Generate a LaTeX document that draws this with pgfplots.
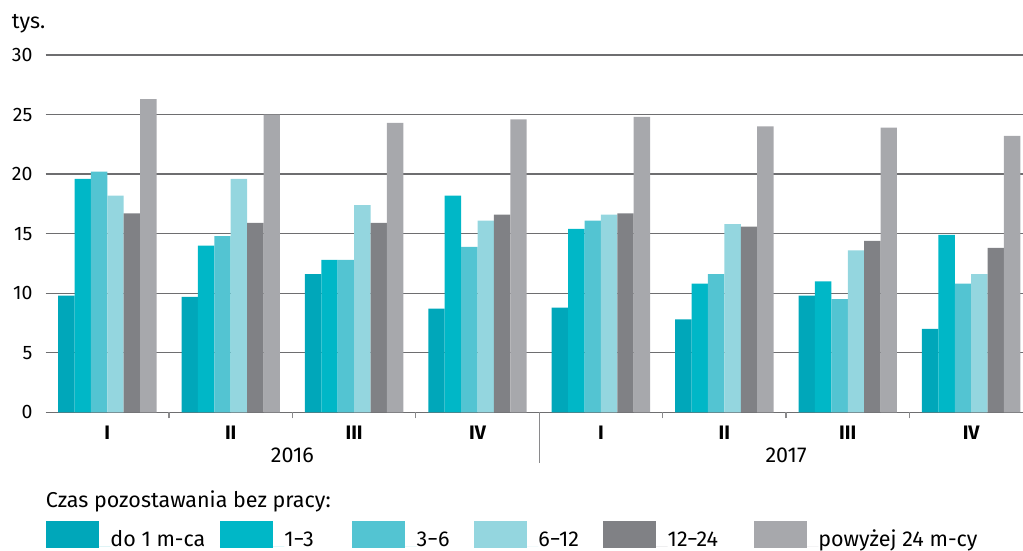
\documentclass[border=0pt]{standalone}
\usepackage{pgfplots}
\pgfplotsset{compat=1.18}
\usepackage{fontspec}
\setmainfont{Fira Sans}
\definecolor{c1}{HTML}{00A7BA}
\definecolor{c2}{HTML}{00B7C7}
\definecolor{c3}{HTML}{53C4D2}
\definecolor{c4}{HTML}{94D6DF}
\definecolor{c5}{HTML}{808185}
\definecolor{c6}{HTML}{A7A8AC}
\definecolor{gridc}{HTML}{6E6E70}
\definecolor{tickc}{HTML}{8A8A8C}
\newcommand{\bigtxt}{\fontsize{21.5}{25}\selectfont}
\begin{document}
\begin{tikzpicture}[font=\fontsize{19.5}{23}\selectfont]
\path[use as bounding box] (0,0) rectangle (1023pt,-550pt);
\begin{axis}[
  at={(45.6pt,-412.3pt)}, anchor=south west,
  scale only axis, width=977.4pt, height=357.3pt,
  xmin=-0.5, xmax=7.42, ymin=0, ymax=30,
  ybar=0pt, bar width=0.1329,
  axis line style={draw=none},
  ymajorgrids, grid style={gridc, line width=1.3pt},
  ytick={0,5,...,30},
  major tick length=0pt,
  tick pos=left,
  /pgf/number format/assume math mode=true,
  yticklabel style={anchor=east, inner sep=0pt, xshift=-13pt},
  xtick={0,...,7},
  xticklabels={I,II,III,IV,I,II,III,IV},
  xticklabel style={anchor=north, inner sep=0pt, yshift=-13.5pt, font=\fontsize{19.5}{23}\selectfont\bfseries},
  extra x ticks={0.5,1.5,2.5,4.5,5.5,6.5},
  extra x tick labels={},
  extra x tick style={major tick length=6pt, tick align=outside, tick style={tickc, line width=1.2pt}},
  myleg/.style={legend image code/.code={\fill (0pt,-2pt) rectangle (53pt,25pt); \path (0pt,0pt) -- (64.5pt,0pt);}},
  legend columns=6,
  legend style={at={(axis description cs:0.0003,-0.3042)}, anchor=north west, draw=none, fill=none,
    inner sep=0pt, outer sep=0pt, row sep=0pt, font=\bigtxt,
    /tikz/every even column/.style={column sep=0pt},
    nodes={inner sep=0pt, outer sep=0pt, anchor=base west}},
  clip=false,
]
\addplot[fill=c1, draw=none, myleg] coordinates {(0,9.8)(1,9.7)(2,11.6)(3,8.7)(4,8.8)(5,7.8)(6,9.8)(7,7.0)};
\addlegendentry{\makebox[109.5pt][l]{do 1 m-ca}}
\addplot[fill=c2, draw=none, myleg] coordinates {(0,19.6)(1,14.0)(2,12.8)(3,18.2)(4,15.4)(5,10.8)(6,11.0)(7,14.9)};
\addlegendentry{\makebox[67.8pt][l]{1−3}}
\addplot[fill=c3, draw=none, myleg] coordinates {(0,20.2)(1,14.8)(2,12.8)(3,13.9)(4,16.1)(5,11.6)(6,9.5)(7,10.8)};
\addlegendentry{\makebox[57.2pt][l]{3−6}}
\addplot[fill=c4, draw=none, myleg] coordinates {(0,18.2)(1,19.6)(2,17.4)(3,16.1)(4,16.6)(5,15.8)(6,13.6)(7,11.6)};
\addlegendentry{\makebox[64.8pt][l]{6−12}}
\addplot[fill=c5, draw=none, myleg] coordinates {(0,16.7)(1,15.9)(2,15.9)(3,16.6)(4,16.7)(5,15.6)(6,14.4)(7,13.8)};
\addlegendentry{\makebox[86.2pt][l]{12−24}}
\addplot[fill=c6, draw=none, myleg] coordinates {(0,26.3)(1,25.0)(2,24.3)(3,24.6)(4,24.8)(5,24.0)(6,23.9)(7,23.2)};
\addlegendentry{powyżej 24 m-cy}
\draw[tickc, line width=1.2pt] (axis cs:3.5,0) -- ++(0pt,-51pt);
\node[anchor=north, inner sep=0pt, font=\bigtxt] at ([yshift=-35.6pt]axis cs:1.5,0) {2016};
\node[anchor=north, inner sep=0pt, font=\bigtxt] at ([yshift=-35.6pt]axis cs:5.5,0) {2017};
\node[anchor=base west, inner sep=0pt, font=\bigtxt] at ([xshift=-33.9pt, yshift=26.7pt]axis description cs:0,1) {tys.};
\node[anchor=base west, inner sep=0pt, font=\bigtxt] at ([yshift=-95.4pt]axis description cs:0,0) {Czas pozostawania bez pracy:};
\end{axis}
\end{tikzpicture}
\end{document}
